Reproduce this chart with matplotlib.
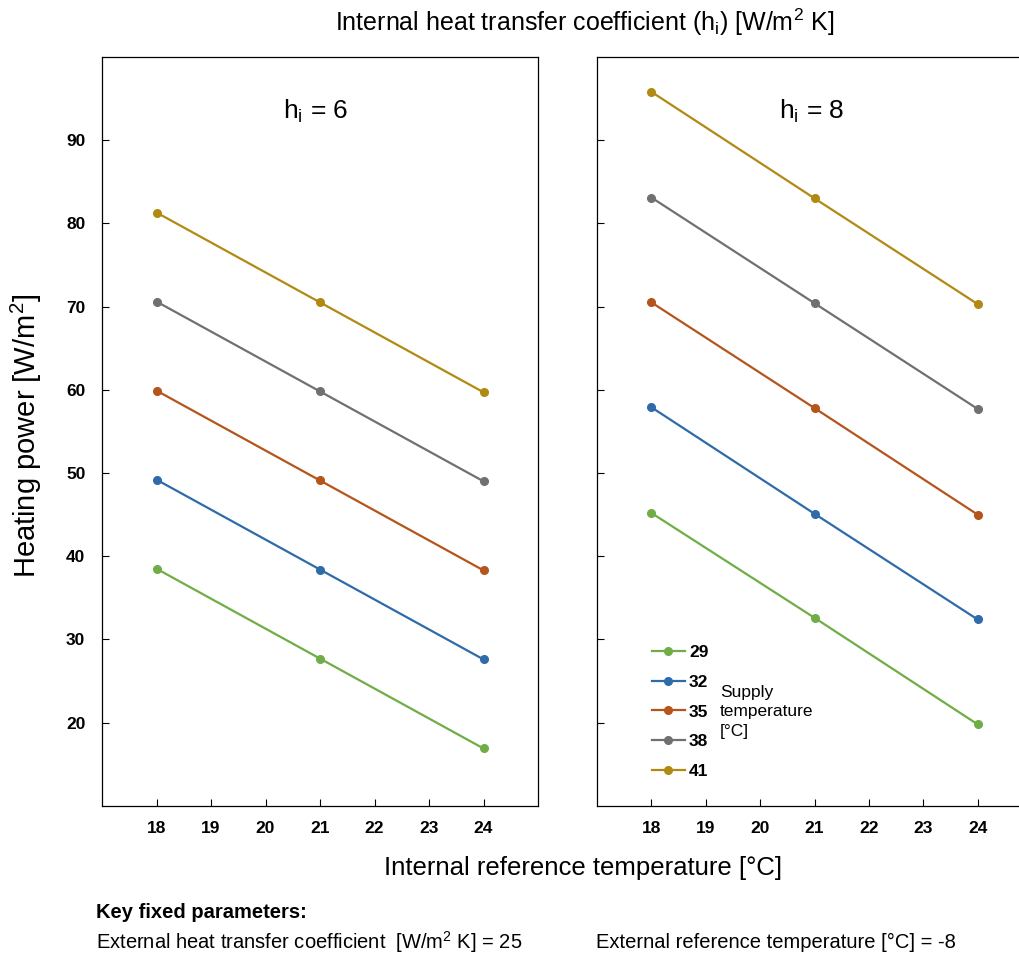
import matplotlib.pyplot as plt
from matplotlib.lines import Line2D

plt.rcParams['font.family'] = ['Liberation Sans', 'DejaVu Sans']

# Internal reference temperature [°C]
t_int = [18, 21, 24]

# Supply temperatures [°C]
supply = ['29', '32', '35', '38', '41']
colors = ['#70AD47', '#2E6BA8', '#B5541B', '#707070', '#B08A12']

# Heating power [W/m2] for h_i = 6
power_h6 = [
    [38.5, 27.7, 16.9],
    [49.2, 38.4, 27.6],
    [59.9, 49.1, 38.3],
    [70.6, 59.8, 49.0],
    [81.3, 70.5, 59.7],
]

# Heating power [W/m2] for h_i = 8
power_h8 = [
    [45.2, 32.6, 19.8],
    [57.9, 45.1, 32.4],
    [70.5, 57.8, 45.0],
    [83.1, 70.4, 57.7],
    [95.8, 83.0, 70.3],
]

fig = plt.figure(figsize=(10.2, 9.56), dpi=100)
ax1 = fig.add_axes([0.1, 0.157, 0.4275, 0.7835])
ax2 = fig.add_axes([0.5853, 0.157, 0.4265, 0.7835])

for ax, data, h, hx in [(ax1, power_h6, '6', 0.489), (ax2, power_h8, '8', 0.494)]:
    for vals, c in zip(data, colors):
        ax.plot(t_int, vals, color=c, lw=1.6, marker='o', ms=5.5)
    ax.set_xlim(17, 25)
    ax.set_ylim(10, 100)
    ax.set_xticks(range(18, 25))
    ax.set_yticks(range(20, 100, 10))
    ax.tick_params(direction='in', length=5, width=0.8, labelsize=12.5)
    ax.tick_params(axis='x', pad=11)
    ax.tick_params(axis='y', pad=12)
    for lab in ax.get_xticklabels() + ax.get_yticklabels():
        lab.set_fontweight('bold')
    for s in ax.spines.values():
        s.set_linewidth(0.9)
    ax.text(hx, 0.927, r'h$_\mathregular{i}$ = ' + h, transform=ax.transAxes,
            ha='center', va='center', fontsize=19)

ax2.tick_params(labelleft=False)

# legend for supply temperatures
handles = [Line2D([], [], color=c, lw=1.6, marker='o', ms=5.5) for c in colors]
leg = ax2.legend(handles, supply, loc='lower left', bbox_to_anchor=(0.09, 0.015),
                 frameon=False, handlelength=1.9, handletextpad=0.25,
                 labelspacing=0.84, prop={'weight': 'bold', 'size': 12.5})
ax2.text(0.283, 0.1255, 'Supply\ntemperature\n[°C]', transform=ax2.transAxes,
         ha='left', va='center', fontsize=12.5, linespacing=1.4)

fig.text(0.573, 0.977, r'Internal heat transfer coefficient (h$_\mathregular{i}$) [W/m$^\mathregular{2}$ K]',
         ha='center', va='center', fontsize=18)
fig.text(0.5716, 0.092, 'Internal reference temperature [°C]',
         ha='center', va='center', fontsize=18.5)
fig.text(0.0255, 0.544, r'Heating power [W/m$^\mathregular{2}$]', rotation=90,
         ha='center', va='center', fontsize=21)

fig.text(0.094, 0.045, 'Key fixed parameters:', fontweight='bold', fontsize=14.5,
         ha='left', va='center')
fig.text(0.094, 0.0146, r'External heat transfer coefficient  [W/m$^\mathregular{2}$ K] = 25',
         fontsize=14.5, ha='left', va='center')
fig.text(0.584, 0.0146, 'External reference temperature [°C] = -8',
         fontsize=14.5, ha='left', va='center')

plt.savefig('out.png', dpi=100)
